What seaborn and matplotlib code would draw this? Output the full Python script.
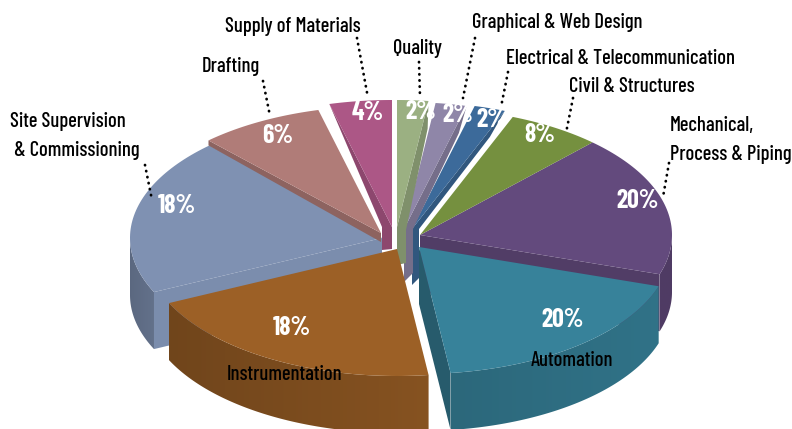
import matplotlib
matplotlib.use("Agg")
import matplotlib.pyplot as plt
from matplotlib.colors import to_rgb
from matplotlib.patches import Polygon
import numpy as np
import seaborn as sns

# slices run clockwise from 12 o'clock; drawn share differs from the printed label in the original
names = ["Quality", "Graphical & Web Design", "Electrical & Telecommunication", "Civil & Structures",
         "Mechanical,\nProcess & Piping", "Automation", "Instrumentation",
         "Site Supervision\n & Commissioning", "Drafting", "Supply of Materials"]
shares = [2, 2, 2, 6, 18, 18, 20, 20, 8, 4]
pct_labels = ["2%", "2%", "2%", "8%", "20%", "20%", "18%", "18%", "6%", "4%"]
colors = ["#9bb082", "#8f86a8", "#3c6a9a", "#75903f", "#634a7d", "#37829a", "#9c6026", "#7f91b2", "#b07c78", "#ac5786"]

# layout, in pixels of the 792x429 picture
tips = [(397, 227), (404, 229), (412, 229), (420, 235), (420, 235), (419, 247), (397, 249), (382, 238), (381, 233), (392, 227)]
RX, RY, DEPTH = 252, 127, 57
draw_order = [4, 3, 2, 1, 0, 7, 8, 9, 5, 6]
name_pos = [(393, 48), (472, 23), (506, 58), (569, 87), (670, 140), (531, 360), (227, 375), (10, 136), (202, 66), (225, 26)]
pct_pos = [(421, 112), (458, 115), (492, 120), (540, 135), (638, 201), (563, 320), (292, 328), (177, 206), (278, 136), (368, 113)]
leaders = [((419, 62), (420, 97)), ((475, 38), (463, 98)), ((508, 72), (501, 107)), ((573, 98), (566, 133)),
           ((669, 163), (663, 197)), None, None, ((145, 165), (152, 200)), ((263, 81), (270, 116)), ((357, 38), (368, 98))]
# cut faces of the back slices: x shift, bottom left, bottom right, start of the shifted edge
back_faces = {0: (9, 38, 36, 3), 1: (9, 53, 44, 0), 2: (7, 56, 49, 0), 9: (-10, 22, 23, 0)}
# outer wall darkening, left end and right end
wall_shade = {4: (0.80, 0.80), 5: (0.80, 0.88), 6: (0.72, 0.86), 7: (0.72, 0.78)}

sns.set_theme(style="white")
plt.rcParams["font.family"] = ["Barlow Condensed", "Liberation Sans", "DejaVu Sans"]

fig = plt.figure(figsize=(7.92, 4.29), dpi=100)
ax = fig.add_axes([0, 0, 1, 1])
ax.axis("off")

edges = np.cumsum([0] + shares) * 3.6
palette = sns.color_palette(colors)


def rim(tip, angle):
    a = np.radians(angle)
    return tip[0] + RX * np.sin(a), tip[1] - RY * np.cos(a)


def shade(color, k):
    return tuple(c * k for c in to_rgb(color))


def wall(tip, lo, hi, col, k_left, k_right, z):
    # gradient image clipped to the curved wall
    xs, ys = rim(tip, np.linspace(lo, hi, 80))
    outline = np.c_[np.r_[xs, xs[::-1]], np.r_[ys, ys[::-1] + DEPTH]]
    grad = np.linspace(k_left, k_right, 128)[None, :, None] * np.array(to_rgb(col))[None, None, :]
    im = ax.imshow(grad, extent=[xs.min(), xs.max(), ys.max() + DEPTH, ys.min()], aspect="auto", zorder=z, interpolation="bilinear")
    im.set_clip_path(Polygon(outline, closed=True, transform=ax.transData))


z = 1
for i in draw_order:
    tip = tips[i]
    a0, a1 = edges[i], edges[i + 1]
    col = palette[i]

    # outer wall, front half only
    if i in wall_shade:
        wall(tip, max(a0, 90), min(a1, 270), col, *wall_shade[i], z)
        z += 1

    # cut faces
    if i in (4, 5, 7):
        x, y = rim(tip, a1 if i != 7 else a0)
        k = {4: 0.82, 5: 0.7, 7: 0.97}[i]
        ax.fill([tip[0], x, x, tip[0]], [tip[1], y, y + DEPTH, tip[1] + DEPTH], color=shade(col, k), lw=0, zorder=z)
    if i == 8:
        x, y = rim(tip, a0)
        ax.fill([tip[0], x, x, tip[0]], [tip[1], y, y + 5, tip[1] + 9], color=shade(col, 0.8), lw=0, zorder=z)
    if i in back_faces:
        s, bl, br, k = back_faces[i]
        x, y = rim(tip, a1 if s > 0 else a0)
        # the right hand faces bulge a little near the rim and close the gap to the next slice
        knee = 4 if s > 0 else 0
        xk = x + (tip[0] + s - x) * 0.22 + knee
        yk = y + (tip[1] - y) * 0.22
        ax.fill([x, xk, tip[0] + s, tip[0] + s, tip[0], tip[0]],
                [y, yk, tip[1] + k, tip[1] + br, tip[1] + bl, tip[1]], color=shade(col, 0.82), lw=0, zorder=z)
    z += 1

    # top surface
    t = np.linspace(a0, a1, 60)
    xs, ys = rim(tip, t)
    ax.fill(np.r_[tip[0], xs], np.r_[tip[1], ys], color=col, lw=0, zorder=z)
    z += 1

for i in draw_order:
    if leaders[i]:
        (x0, y0), (x1, y1) = leaders[i]
        ax.plot([x0, x1], [y0, y1], color="black", lw=2, linestyle=(0, (0.1, 2.1)), dash_capstyle="round", zorder=z)
    ax.text(*pct_pos[i], pct_labels[i], color="white", fontsize=18.5, fontweight="bold", ha="center", va="center", zorder=z + 1)
    ax.text(*name_pos[i], names[i], color="black", fontsize=14.8, fontweight="medium", ha="left", va="center", linespacing=1.7, zorder=z + 1)

ax.set_xlim(0, 792)
ax.set_ylim(429, 0)
fig.savefig("out.png", dpi=100)
